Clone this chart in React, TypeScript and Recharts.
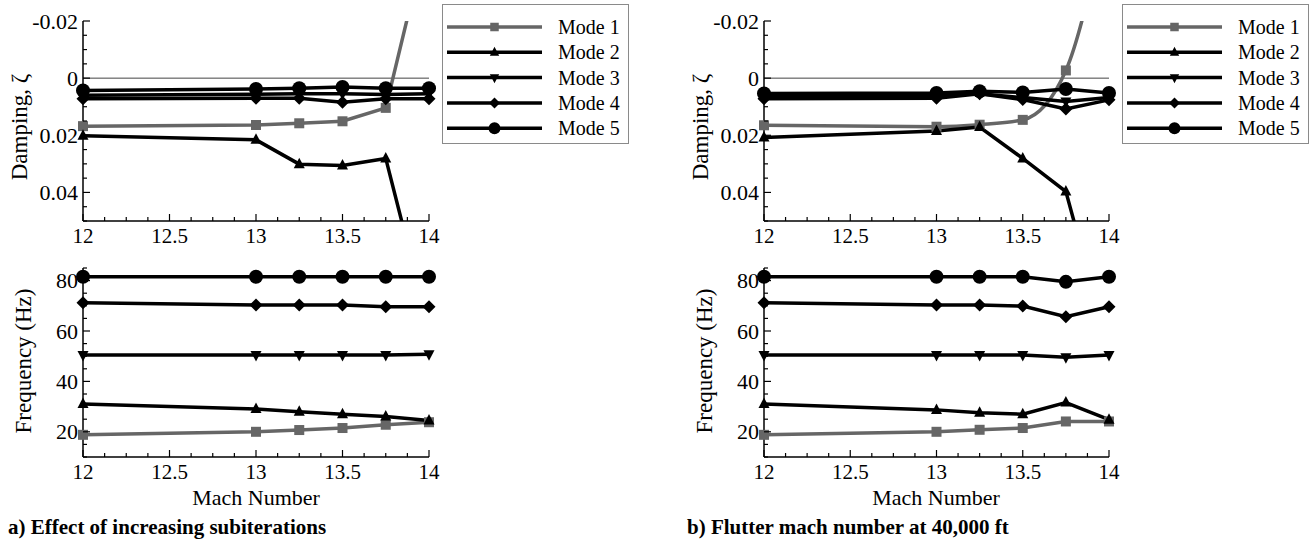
import React from 'react';
import { LineChart, Line, XAxis, YAxis, ReferenceLine, Legend } from 'recharts';

// ---------- data ----------
const machNumbers = [12, 13, 13.25, 13.5, 13.75, 14];
const modeNames = ['Mode 1', 'Mode 2', 'Mode 3', 'Mode 4', 'Mode 5'];

// a) Effect of increasing subiterations — damping
const dampingA1 = [0.0168, 0.0164, 0.0158, 0.0151, 0.0104, -0.0524];
const dampingA2 = [0.0202, 0.0216, 0.0301, 0.0306, 0.0281, 0.0876];
const dampingA3 = [0.006, 0.0056, 0.0055, 0.0055, 0.0057, 0.0055];
const dampingA4 = [0.0072, 0.007, 0.007, 0.0084, 0.0072, 0.0072];
const dampingA5 = [0.0043, 0.0038, 0.0035, 0.0031, 0.0035, 0.0035];

// a) frequency
const freqA1 = [18.8, 20.0, 20.7, 21.5, 22.8, 23.8];
const freqA2 = [31.0, 29.0, 28.0, 27.0, 26.1, 24.5];
const freqA3 = [50.5, 50.5, 50.5, 50.5, 50.5, 50.8];
const freqA4 = [71.2, 70.3, 70.3, 70.3, 69.6, 69.6];
const freqA5 = [81.5, 81.5, 81.5, 81.5, 81.5, 81.5];

// b) Flutter mach number at 40,000 ft — damping
const dampingB1 = [0.0165, 0.017, 0.0163, 0.0146, -0.0027, -0.062];
const dampingB2 = [0.0208, 0.0185, 0.0171, 0.0281, 0.0397, 0.095];
const dampingB3 = [0.0062, 0.006, 0.0055, 0.0068, 0.0082, 0.0068];
const dampingB4 = [0.0072, 0.007, 0.0055, 0.0075, 0.0108, 0.0076];
const dampingB5 = [0.0054, 0.0052, 0.0046, 0.005, 0.0038, 0.0052];

// b) frequency
const freqB1 = [18.8, 20.0, 20.8, 21.5, 24.1, 24.1];
const freqB2 = [31.0, 28.7, 27.6, 27.0, 31.6, 24.8];
const freqB3 = [50.5, 50.5, 50.5, 50.5, 49.6, 50.5];
const freqB4 = [71.2, 70.3, 70.3, 69.9, 65.7, 69.6];
const freqB5 = [81.5, 81.5, 81.5, 81.5, 79.5, 81.5];

// ticks
const machMajorTicks = [12, 12.5, 13, 13.5, 14];
const machTickLabels = ['12', '12.5', '13', '13.5', '14'];
const machMinorTicks = [12.125, 12.25, 12.375, 12.625, 12.75, 12.875, 13.125, 13.25, 13.375, 13.625, 13.75, 13.875];
const dampingMajorTicks = [-0.02, 0, 0.02, 0.04];
const dampingTickLabels = ['-0.02', '0', '0.02', '0.04'];
const dampingMinorTicks = [-0.015, -0.01, -0.005, 0.005, 0.01, 0.015, 0.025, 0.03, 0.035, 0.045, 0.05];
const freqMajorTicks = [20, 40, 60, 80];
const freqTickLabels = ['20', '40', '60', '80'];
const freqMinorTicks = [10, 15, 25, 30, 35, 45, 50, 55, 65, 70, 75, 85];

// ---------- styling ----------
const FONT = 'Liberation Serif, Times New Roman, Times, DejaVu Serif, serif';
const GRAY = '#666666';
const BLACK = '#000000';
const seriesKeys = ['m1', 'm2', 'm3', 'm4', 'm5'];
const seriesShapes = ['square', 'up', 'down', 'diamond', 'circle'];
const seriesColors = [GRAY, BLACK, BLACK, BLACK, BLACK];

function buildRows(series: number[][]) {
  return machNumbers.map((m, i) => {
    const row: any = { mach: m };
    series.forEach((s, k) => {
      row[seriesKeys[k]] = s[i];
    });
    return row;
  });
}

const dampingARows = buildRows([dampingA1, dampingA2, dampingA3, dampingA4, dampingA5]);
const freqARows = buildRows([freqA1, freqA2, freqA3, freqA4, freqA5]);
const dampingBRows = buildRows([dampingB1, dampingB2, dampingB3, dampingB4, dampingB5]);
const freqBRows = buildRows([freqB1, freqB2, freqB3, freqB4, freqB5]);

function Marker({ shape, cx, cy, color, s = 1 }: any) {
  if (cx == null || cy == null) return null;
  switch (shape) {
    case 'square':
      return <rect x={cx - 5 * s} y={cy - 5 * s} width={10 * s} height={10 * s} fill={color} />;
    case 'up':
      return (
        <polygon
          points={`${cx},${cy - 6.5 * s} ${cx - 5.5 * s},${cy + 4 * s} ${cx + 5.5 * s},${cy + 4 * s}`}
          fill={color}
        />
      );
    case 'down':
      return (
        <polygon
          points={`${cx},${cy + 6.5 * s} ${cx - 5.5 * s},${cy - 4 * s} ${cx + 5.5 * s},${cy - 4 * s}`}
          fill={color}
        />
      );
    case 'diamond':
      return (
        <polygon
          points={`${cx},${cy - 6.5 * s} ${cx + 6.5 * s},${cy} ${cx},${cy + 6.5 * s} ${cx - 6.5 * s},${cy}`}
          fill={color}
        />
      );
    default:
      return <circle cx={cx} cy={cy} r={7 * s} fill={color} />;
  }
}

function makeDot(k: number) {
  return (p: any) => (
    <Marker key={`dot-${k}-${p.index}`} shape={seriesShapes[k]} cx={p.cx} cy={p.cy} color={seriesColors[k]} />
  );
}

function findIdx(list: number[], v: number) {
  return list.findIndex((t) => Math.abs(t - v) < 1e-9);
}

function makeXTick(majors: number[], labels: string[]) {
  return (props: any) => {
    const { x, y, payload } = props;
    const idx = findIdx(majors, payload.value);
    const major = idx >= 0;
    return (
      <g>
        <line x1={x} x2={x} y1={y} y2={y - (major ? 7 : 4)} stroke={BLACK} strokeWidth={1.2} />
        {major && (
          <text x={x} y={y + 15} textAnchor="middle" dominantBaseline="central" style={{ fontFamily: FONT }} fontSize={21} fill={BLACK}>
            {labels[idx]}
          </text>
        )}
      </g>
    );
  };
}

function makeYTick(majors: number[], labels: string[]) {
  return (props: any) => {
    const { x, y, payload } = props;
    const idx = findIdx(majors, payload.value);
    const major = idx >= 0;
    return (
      <g>
        <line x1={x} x2={x + (major ? 7 : 4)} y1={y} y2={y} stroke={BLACK} strokeWidth={1.2} />
        {major && (
          <text x={x - 5} y={y} textAnchor="end" dominantBaseline="central" style={{ fontFamily: FONT }} fontSize={22} fill={BLACK}>
            {labels[idx]}
          </text>
        )}
      </g>
    );
  };
}

function yTitle(text: string, x: number, y: number) {
  return () => (
    <text
      x={x}
      y={y}
      transform={`rotate(-90 ${x} ${y})`}
      textAnchor="middle"
      dominantBaseline="central"
      style={{ fontFamily: FONT }}
      fontSize={23}
      fill={BLACK}
    >
      {text}
    </text>
  );
}

function xTitle(text: string, x: number, y: number) {
  return () => (
    <text x={x} y={y} textAnchor="middle" dominantBaseline="central" style={{ fontFamily: FONT }} fontSize={22} fill={BLACK}>
      {text}
    </text>
  );
}

const renderLegend = (props: any) => {
  const payload = (props.payload || []).slice().sort(
    (a: any, b: any) => seriesKeys.indexOf(a.dataKey) - seriesKeys.indexOf(b.dataKey)
  );
  return (
    <div style={{ width: 187, height: 140, border: '1px solid #8a8a8a', boxSizing: 'border-box', background: '#fff' }}>
      <svg width={185} height={138} style={{ display: 'block' }}>
        {payload.map((item: any, i: number) => {
          const k = seriesKeys.indexOf(item.dataKey);
          const y = 22 + i * 25.3;
          return (
            <g key={`leg-${i}`}>
              <line x1={4} x2={99} y1={y} y2={y} stroke={seriesColors[k]} strokeWidth={3.5} />
              <Marker shape={seriesShapes[k]} cx={51.5} cy={y} color={seriesColors[k]} s={0.85} />
              <text x={115} y={y} dominantBaseline="central" style={{ fontFamily: FONT }} fontSize={20} fill={BLACK}>
                {modeNames[k]}
              </text>
            </g>
          );
        })}
      </svg>
    </div>
  );
};

function seriesLines(smoothFirst: boolean) {
  return seriesKeys.map((key, k) => (
    <Line
      key={key}
      dataKey={key}
      name={modeNames[k]}
      type={smoothFirst && k === 0 ? 'monotone' : 'linear'}
      stroke={seriesColors[k]}
      strokeWidth={3.5}
      dot={makeDot(k)}
      activeDot={false}
      isAnimationActive={false}
    />
  ));
}

function DampingChart({ rows, width, marginLeft, marginRight, yLabelX, smoothFirst }: any) {
  return (
    <LineChart
      width={width}
      height={250}
      data={rows}
      margin={{ top: 21, right: marginRight, left: marginLeft, bottom: 4 }}
    >
      <XAxis
        dataKey="mach"
        type="number"
        domain={[12, 14]}
        ticks={[...machMajorTicks, ...machMinorTicks]}
        interval={0}
        tickSize={0}
        tickMargin={0}
        tickLine={false}
        tick={makeXTick(machMajorTicks, machTickLabels)}
        axisLine={{ stroke: BLACK, strokeWidth: 1.5 }}
        height={25}
      />
      <YAxis
        type="number"
        domain={[-0.02, 0.05]}
        reversed
        allowDataOverflow
        ticks={[...dampingMajorTicks, ...dampingMinorTicks]}
        interval={0}
        tickSize={0}
        tickMargin={0}
        tickLine={false}
        tick={makeYTick(dampingMajorTicks, dampingTickLabels)}
        axisLine={{ stroke: BLACK, strokeWidth: 1.5 }}
        width={60}
        label={yTitle('Damping, ζ', yLabelX, 127)}
      />
      <ReferenceLine y={0} stroke="#444" strokeWidth={1} />
      {seriesLines(smoothFirst)}
      <Legend
        layout="horizontal"
        verticalAlign="middle"
        align="center"
        content={renderLegend}
        wrapperStyle={{ position: 'absolute', left: 442, top: 4, width: 187, height: 140 }}
      />
    </LineChart>
  );
}

function FrequencyChart({ rows, marginLeft, yLabelX }: any) {
  return (
    <LineChart width={440} height={291} data={rows} margin={{ top: 18, right: 11, left: marginLeft, bottom: 54 }}>
      <XAxis
        dataKey="mach"
        type="number"
        domain={[12, 14]}
        ticks={[...machMajorTicks, ...machMinorTicks]}
        interval={0}
        tickSize={0}
        tickMargin={0}
        tickLine={false}
        tick={makeXTick(machMajorTicks, machTickLabels)}
        axisLine={{ stroke: BLACK, strokeWidth: 1.5 }}
        height={30}
        label={xTitle('Mach Number', 256, 247)}
      />
      <YAxis
        type="number"
        domain={[10, 85]}
        allowDataOverflow
        ticks={[...freqMajorTicks, ...freqMinorTicks]}
        interval={0}
        tickSize={0}
        tickMargin={0}
        tickLine={false}
        tick={makeYTick(freqMajorTicks, freqTickLabels)}
        axisLine={{ stroke: BLACK, strokeWidth: 1.5 }}
        width={60}
        label={yTitle('Frequency (Hz)', yLabelX, 111)}
      />
      {seriesLines(false)}
    </LineChart>
  );
}

const captionStyle: React.CSSProperties = {
  position: 'absolute',
  top: 514,
  height: 26,
  lineHeight: '26px',
  fontFamily: FONT,
  fontWeight: 'bold',
  fontSize: 21,
  color: BLACK,
  whiteSpace: 'nowrap',
};

export default function App() {
  return (
    <div style={{ position: 'absolute', left: 0, top: 0, width: 1313, height: 541, background: '#fff', overflow: 'hidden', fontFamily: FONT }}>
      <div style={{ position: 'absolute', left: 0, top: 0 }}>
        <DampingChart rows={dampingARows} width={640} marginLeft={23} marginRight={211} yLabelX={19} smoothFirst={false} />
      </div>
      <div style={{ position: 'absolute', left: 0, top: 250 }}>
        <FrequencyChart rows={freqARows} marginLeft={23} yLabelX={23} />
      </div>
      <div style={{ position: 'absolute', left: 680, top: 0 }}>
        <DampingChart rows={dampingBRows} width={633} marginLeft={24} marginRight={204} yLabelX={20} smoothFirst={true} />
      </div>
      <div style={{ position: 'absolute', left: 680, top: 250 }}>
        <FrequencyChart rows={freqBRows} marginLeft={24} yLabelX={24} />
      </div>
      <div style={{ ...captionStyle, left: 8 }}>a) Effect of increasing subiterations</div>
      <div style={{ ...captionStyle, left: 687 }}>b) Flutter mach number at 40,000 ft</div>
    </div>
  );
}
